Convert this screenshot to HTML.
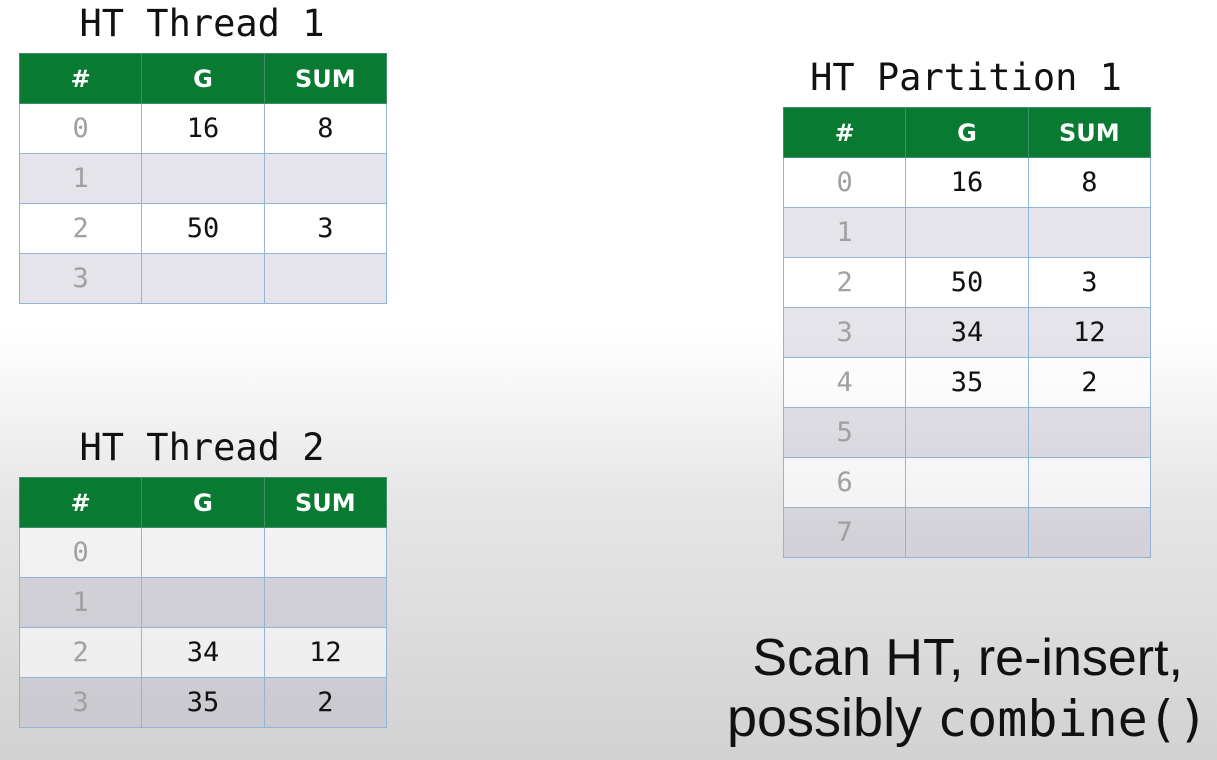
<!DOCTYPE html>
<html><head><meta charset="utf-8"><style>
body{margin:0;width:1217px;height:760px;overflow:hidden;position:relative;
background:linear-gradient(to bottom,#ffffff 0px,#ffffff 330px,#e6e6e6 500px,#d2d2d2 760px);
font-family:"Liberation Sans",sans-serif;}
.title{position:absolute;font-family:"DejaVu Sans Mono","Liberation Mono",monospace;font-size:37px;color:#111;text-align:center;width:400px;line-height:44px;}
table{position:absolute;border-collapse:collapse;table-layout:fixed;}
td,th{border:1px solid #8fb6d6;height:49px;padding:0;text-align:center;font-family:"DejaVu Sans Mono","Liberation Mono",monospace;font-size:27px;color:#111;}
th{background:#087a32;color:#fff;font-family:"DejaVu Sans","Liberation Sans",sans-serif;font-weight:bold;font-size:24px;border-color:#3f8f6a;}
td:first-child{color:#a0a0a0;}
tr.w td{background:rgba(255,255,255,0.55);}
tr.g td{background:rgba(185,185,200,0.38);}
col{width:122px;}
.txt{position:absolute;font-size:52px;color:#111;line-height:60px;white-space:nowrap;}
.mono{font-family:"DejaVu Sans Mono","Liberation Mono",monospace;font-size:50px;}
</style></head><body>
<div class="title" style="left:2px;top:2px;">HT Thread 1</div>
<table style="left:19px;top:53px;width:368px;"><col><col><col>
<tr><th>#</th><th>G</th><th>SUM</th></tr>
<tr class="w"><td>0</td><td>16</td><td>8</td></tr>
<tr class="g"><td>1</td><td></td><td></td></tr>
<tr class="w"><td>2</td><td>50</td><td>3</td></tr>
<tr class="g"><td>3</td><td></td><td></td></tr>
</table>

<div class="title" style="left:2px;top:426px;">HT Thread 2</div>
<table style="left:19px;top:477px;width:368px;"><col><col><col>
<tr><th>#</th><th>G</th><th>SUM</th></tr>
<tr class="w"><td>0</td><td></td><td></td></tr>
<tr class="g"><td>1</td><td></td><td></td></tr>
<tr class="w"><td>2</td><td>34</td><td>12</td></tr>
<tr class="g"><td>3</td><td>35</td><td>2</td></tr>
</table>

<div class="title" style="left:766px;top:56px;">HT Partition 1</div>
<table style="left:783px;top:107px;width:368px;"><col><col><col>
<tr><th>#</th><th>G</th><th>SUM</th></tr>
<tr class="w"><td>0</td><td>16</td><td>8</td></tr>
<tr class="g"><td>1</td><td></td><td></td></tr>
<tr class="w"><td>2</td><td>50</td><td>3</td></tr>
<tr class="g"><td>3</td><td>34</td><td>12</td></tr>
<tr class="w"><td>4</td><td>35</td><td>2</td></tr>
<tr class="g"><td>5</td><td></td><td></td></tr>
<tr class="w"><td>6</td><td></td><td></td></tr>
<tr class="g"><td>7</td><td></td><td></td></tr>
</table>

<div class="txt" style="top:628px;right:34px;">Scan HT, re-insert,</div>
<div class="txt" style="top:688px;right:9px;font-size:54px;">possibly <span class="mono">combine()</span></div>
</body></html>
